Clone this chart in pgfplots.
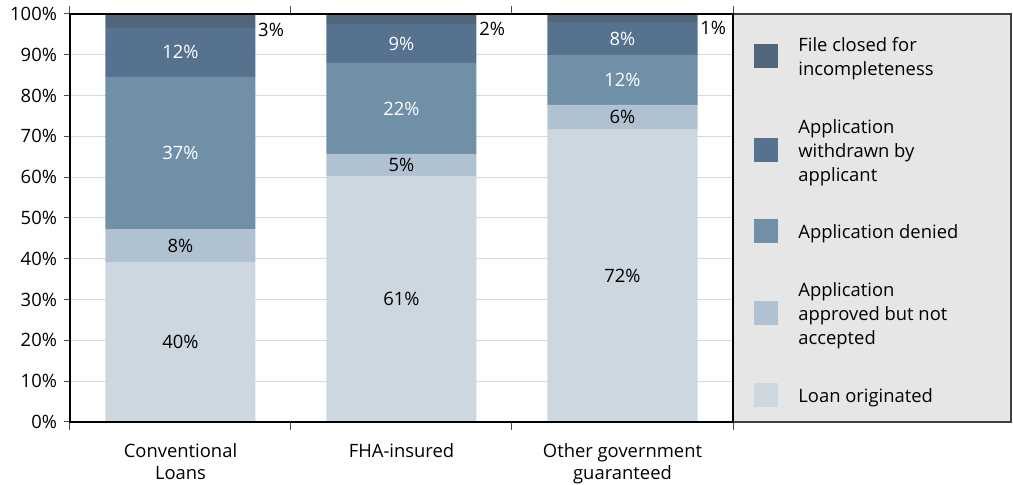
\documentclass[border=0pt]{standalone}
\usepackage{fontspec}
\setmainfont{Open Sans}
\usepackage{pgfplots}
\pgfplotsset{compat=1.18}
\definecolor{cclosed}{HTML}{51667A}
\definecolor{cwithdrawn}{HTML}{56728F}
\definecolor{cdenied}{HTML}{7090A8}
\definecolor{capproved}{HTML}{B0C1D2}
\definecolor{cloan}{HTML}{CCD7E0}
\definecolor{legbg}{HTML}{E6E6E6}
\definecolor{gridc}{HTML}{D9D9D9}
\tikzset{legtxt/.style={anchor=west, align=left, inner sep=0pt, yshift=-1.3pt, font=\fontsize{9.2}{12}\selectfont}}
\begin{document}
\begin{tikzpicture}[font=\fontsize{9.2}{11}\selectfont]
\begin{axis}[
  width=331.5pt, height=204pt, scale only axis,
  ybar stacked, bar width=75pt,
  xmin=-0.5, xmax=2.5, ymin=0, ymax=100,
  xtick={0,1,2},
  xticklabels={{Conventional\\Loans},{FHA-insured},{Other government\\guaranteed}},
  xticklabel style={align=center, yshift=-4pt},
  ytick={0,10,...,100},
  yticklabel={\pgfmathprintnumber{\tick}\%},
  /pgf/number format/assume math mode=true,
  ymajorgrids, grid style={draw=gridc, line width=0.5pt},
  axis line style={black, line width=1pt},
  major tick length=3pt, tick align=outside,
  xtick style={draw=none},
  ytick style={draw=gray!60!black, line width=0.5pt},
  extra x ticks={-0.5,0.5,1.5,2.5}, extra x tick labels={},
  extra x tick style={xtick style={draw=gray!60!black, line width=0.5pt}, major tick length=4pt},
  clip=false,
]
\addplot[fill=cloan, draw=none] coordinates {(0,39.2) (1,60.3) (2,71.8)};
\addplot[fill=capproved, draw=none] coordinates {(0,8.1) (1,5.4) (2,5.9)};
\addplot[fill=cdenied, draw=none] coordinates {(0,37.3) (1,22.3) (2,12.3)};
\addplot[fill=cwithdrawn, draw=none] coordinates {(0,12.0) (1,9.5) (2,8.0)};
\addplot[fill=cclosed, draw=none] coordinates {(0,3.4) (1,2.5) (2,2.0)};

\coordinate (a1) at (axis cs:0,19.6);
\coordinate (a2) at (axis cs:0,43.25);
\coordinate (a3) at (axis cs:0,65.95);
\coordinate (a4) at (axis cs:0,90.6);
\coordinate (a5) at (axis cs:0.35,96.1);
\coordinate (b1) at (axis cs:1,30.15);
\coordinate (b2) at (axis cs:1,63.0);
\coordinate (b3) at (axis cs:1,76.85);
\coordinate (b4) at (axis cs:1,92.75);
\coordinate (b5) at (axis cs:1.35,96.3);
\coordinate (c1) at (axis cs:2,35.9);
\coordinate (c2) at (axis cs:2,74.75);
\coordinate (c3) at (axis cs:2,83.85);
\coordinate (c4) at (axis cs:2,94.0);
\coordinate (c5) at (axis cs:2.35,96.6);

\coordinate (bl) at (rel axis cs:0,0);
\coordinate (tr) at (rel axis cs:1,1);
\coordinate (lr) at (rel axis cs:1.4193,1);
\coordinate (k1) at (rel axis cs:1.0498,0.897);
\coordinate (k2) at (rel axis cs:1.0498,0.667);
\coordinate (k3) at (rel axis cs:1.0498,0.468);
\coordinate (k4) at (rel axis cs:1.0498,0.267);
\coordinate (k5) at (rel axis cs:1.0498,0.066);
\coordinate (t1) at (rel axis cs:1.098,0.897);
\coordinate (t2) at (rel axis cs:1.098,0.667);
\coordinate (t3) at (rel axis cs:1.098,0.468);
\coordinate (t4) at (rel axis cs:1.098,0.267);
\coordinate (t5) at (rel axis cs:1.098,0.066);
\end{axis}
\node at (a1) {40\%};
\node at (a2) {8\%};
\node[text=white] at (a3) {37\%};
\node[text=white] at (a4) {12\%};
\node[anchor=west, inner sep=0pt] at (a5) {3\%};
\node at (b1) {61\%};
\node at (b2) {5\%};
\node[text=white] at (b3) {22\%};
\node[text=white] at (b4) {9\%};
\node[anchor=west, inner sep=0pt] at (b5) {2\%};
\node at (c1) {72\%};
\node at (c2) {6\%};
\node[text=white] at (c3) {12\%};
\node[text=white] at (c4) {8\%};
\node[anchor=west, inner sep=0pt] at (c5) {1\%};

\filldraw[fill=legbg, draw=gray!50!black, line width=0.6pt] (bl -| tr) rectangle (lr);
\draw[black, line width=1pt] (bl) rectangle (tr);
\fill[cclosed] ([shift={(-6pt,-6pt)}]k1) rectangle ([shift={(6pt,6pt)}]k1);
\node[legtxt] at (t1) {File closed for\\incompleteness};
\fill[cwithdrawn] ([shift={(-6pt,-6pt)}]k2) rectangle ([shift={(6pt,6pt)}]k2);
\node[legtxt] at (t2) {Application\\withdrawn by\\applicant};
\fill[cdenied] ([shift={(-6pt,-6pt)}]k3) rectangle ([shift={(6pt,6pt)}]k3);
\node[legtxt] at (t3) {Application denied};
\fill[capproved] ([shift={(-6pt,-6pt)}]k4) rectangle ([shift={(6pt,6pt)}]k4);
\node[legtxt] at (t4) {Application\\approved but not\\accepted};
\fill[cloan] ([shift={(-6pt,-6pt)}]k5) rectangle ([shift={(6pt,6pt)}]k5);
\node[legtxt] at (t5) {Loan originated};
\pgfresetboundingbox
\path ([shift={(-35pt,-31.5pt)}]bl) rectangle ([shift={(140pt,7pt)}]tr);
\end{tikzpicture}
\end{document}
